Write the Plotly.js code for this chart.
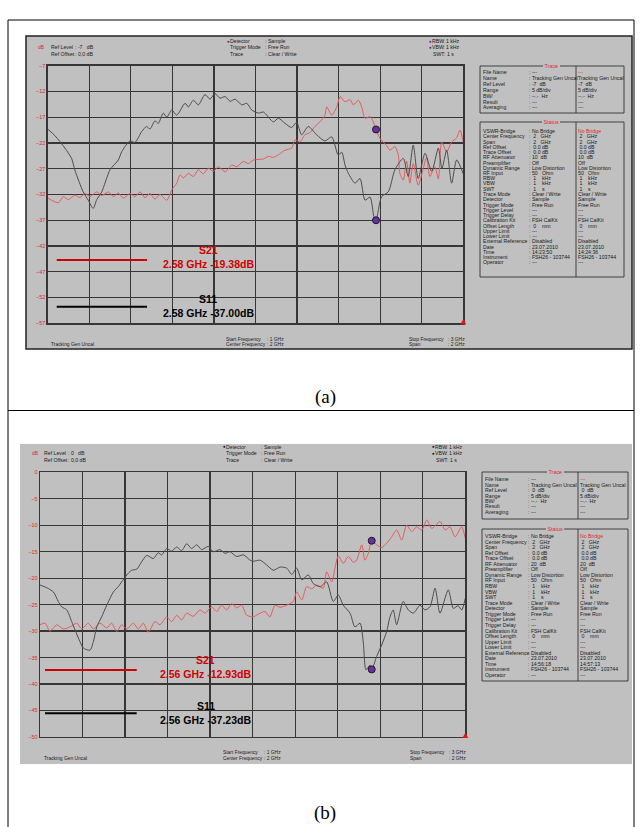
<!DOCTYPE html>
<html>
<head>
<meta charset="utf-8">
<script src="https://cdn.plot.ly/plotly-3.0.1.min.js"></script>
<style>
  html, body { margin: 0; padding: 0; background: #ffffff; }
  #chart { width: 640px; height: 827px; }
</style>
</head>
<body>
<div id="chart"></div>
<script>
// ---------- measured traces (frequency in GHz, level in dB) ----------
// (a) Ref level -7 dB
const freqA_S11 = [1.000,1.035,1.083,1.115,1.131,1.171,1.195,1.219,1.236,1.260,1.300,1.340,1.356,1.396,1.420,1.452,1.476,1.492,1.516,1.532,1.556,1.573,1.597,1.621,1.661,1.677,1.701,1.725,1.757,1.781,1.805,1.829,1.854,1.878,1.902,1.934,1.958,1.982,2.014,2.038,2.086,2.110,2.142,2.174,2.198,2.222,2.254,2.294,2.334,2.367,2.398,2.415,2.431,2.447,2.479,2.503,2.527,2.551,2.570,2.580,2.607,2.639,2.671,2.711,2.735,2.759,2.783,2.816,2.848,2.880,2.897,2.920,2.944,2.968,3.000];
const levelA_S11 = [-19.3,-20.6,-23.0,-25.0,-27.3,-31.5,-33.1,-34.7,-33.0,-31.5,-27.2,-25.3,-23.7,-21.6,-21.9,-19.8,-18.8,-19.3,-17.7,-18.2,-16.2,-17.0,-15.6,-16.6,-14.3,-15.0,-13.7,-14.6,-12.6,-13.5,-12.4,-13.3,-13.0,-13.9,-13.5,-14.6,-14.3,-15.6,-16.2,-16.0,-17.9,-17.2,-18.2,-19.0,-18.0,-20.4,-18.8,-20.4,-21.6,-20.8,-24.3,-23.8,-26.3,-27.9,-29.8,-28.9,-33.1,-32.5,-36.3,-37.0,-32.4,-31.5,-27.2,-25.0,-28.5,-22.4,-28.9,-24.0,-27.5,-23.0,-27.0,-23.4,-29.8,-25.3,-28.0];
const freqA_S21 = [1.000,1.051,1.075,1.099,1.131,1.155,1.179,1.203,1.236,1.260,1.292,1.316,1.340,1.364,1.396,1.420,1.444,1.468,1.492,1.516,1.540,1.573,1.597,1.621,1.637,1.653,1.677,1.701,1.725,1.749,1.773,1.797,1.821,1.854,1.886,1.910,1.942,1.966,1.990,2.038,2.062,2.086,2.110,2.142,2.174,2.190,2.214,2.238,2.262,2.286,2.310,2.334,2.343,2.367,2.391,2.407,2.431,2.455,2.471,2.495,2.511,2.527,2.551,2.566,2.580,2.599,2.631,2.647,2.671,2.687,2.695,2.711,2.727,2.743,2.759,2.783,2.807,2.823,2.839,2.863,2.880,2.896,2.920,2.944,2.968,2.984,3.000];
const levelA_S21 = [-32.7,-33.6,-32.4,-33.0,-32.1,-32.6,-31.8,-32.4,-31.5,-32.2,-31.5,-32.4,-31.7,-32.7,-31.8,-32.4,-31.5,-32.6,-31.8,-32.9,-32.0,-33.1,-31.1,-29.8,-28.2,-28.8,-27.9,-28.5,-27.2,-28.0,-26.9,-27.5,-26.6,-27.6,-26.3,-26.6,-25.6,-26.0,-25.3,-25.1,-24.6,-24.8,-24.3,-23.4,-23.0,-21.4,-21.8,-20.4,-20.0,-18.8,-17.9,-16.6,-15.0,-16.6,-15.0,-13.0,-14.0,-13.6,-14.6,-13.7,-15.0,-17.2,-16.9,-17.8,-19.38,-21.1,-22.5,-23.4,-22.7,-24.3,-27.9,-29.2,-25.5,-29.8,-26.0,-30.2,-27.0,-24.8,-28.5,-26.6,-29.0,-21.8,-23.7,-21.8,-21.0,-19.5,-21.8];
const markerA_freq = 2.58;
const markerA_S21 = -19.38;
const markerA_S11 = -37.00;

// (b) Ref level 0 dB
const freqB_S11 = [1.000,1.032,1.063,1.086,1.102,1.126,1.149,1.165,1.188,1.204,1.235,1.251,1.267,1.290,1.314,1.345,1.368,1.384,1.408,1.431,1.455,1.478,1.502,1.533,1.556,1.572,1.596,1.619,1.643,1.666,1.690,1.713,1.737,1.760,1.791,1.815,1.846,1.870,1.893,1.925,1.957,1.988,2.003,2.035,2.066,2.097,2.129,2.160,2.184,2.207,2.231,2.262,2.285,2.317,2.348,2.379,2.403,2.426,2.458,2.481,2.505,2.520,2.533,2.552,2.560,2.583,2.607,2.630,2.646,2.661,2.677,2.708,2.732,2.756,2.787,2.810,2.834,2.858,2.881,2.920,2.944,2.966,2.983,3.000];
const levelB_S11 = [-21.3,-21.8,-22.6,-24.4,-25.4,-26.0,-28.2,-29.8,-32.0,-33.2,-33.6,-32.0,-29.2,-27.3,-25.1,-22.6,-21.6,-20.7,-19.4,-18.5,-18.3,-16.9,-15.7,-16.3,-15.2,-15.6,-14.4,-14.9,-14.1,-14.8,-13.5,-14.4,-13.7,-14.6,-14.0,-15.0,-14.6,-15.3,-15.0,-15.9,-15.6,-16.6,-16.8,-16.6,-17.5,-18.5,-17.9,-18.1,-19.3,-18.1,-20.3,-19.4,-21.0,-21.6,-20.7,-24.4,-23.2,-25.1,-26.6,-29.2,-28.5,-32.0,-37.3,-36.4,-37.23,-34.8,-32.6,-30.1,-27.3,-26.0,-28.8,-24.4,-26.0,-26.6,-25.1,-26.0,-25.4,-21.9,-26.6,-22.2,-25.7,-25.2,-26.0,-23.8];
const freqB_S21 = [1.000,1.024,1.047,1.079,1.110,1.141,1.173,1.196,1.227,1.251,1.282,1.314,1.337,1.361,1.384,1.408,1.439,1.462,1.486,1.509,1.541,1.564,1.596,1.619,1.643,1.666,1.690,1.721,1.752,1.776,1.807,1.831,1.854,1.878,1.901,1.925,1.948,1.972,2.003,2.026,2.058,2.081,2.105,2.129,2.160,2.191,2.207,2.231,2.254,2.278,2.301,2.332,2.348,2.372,2.387,2.403,2.426,2.450,2.473,2.489,2.513,2.528,2.544,2.560,2.583,2.607,2.630,2.654,2.677,2.701,2.724,2.748,2.771,2.795,2.819,2.842,2.881,2.905,2.928,2.952,2.983,3.000];
const levelB_S21 = [-28.8,-28.5,-30.0,-28.8,-29.6,-29.2,-28.5,-29.6,-28.5,-29.6,-28.5,-29.4,-28.5,-30.1,-28.8,-29.6,-28.5,-29.6,-28.5,-30.2,-28.2,-28.8,-27.3,-28.2,-27.0,-27.9,-26.6,-27.2,-26.0,-26.6,-25.4,-26.3,-25.1,-26.0,-24.8,-25.6,-25.1,-27.0,-27.3,-26.8,-26.3,-27.3,-25.1,-25.5,-25.1,-24.4,-22.6,-24.1,-21.6,-22.0,-21.3,-21.9,-18.8,-20.7,-18.1,-15.8,-17.2,-15.9,-17.0,-16.6,-13.7,-16.6,-15.3,-12.93,-13.7,-14.2,-13.4,-12.2,-10.9,-12.8,-10.0,-11.2,-10.3,-10.9,-9.0,-10.6,-9.3,-10.9,-10.3,-12.2,-10.3,-12.5];
const markerB_freq = 2.56;
const markerB_S21 = -12.93;
const markerB_S11 = -37.23;

// ---------- instrument text ----------
const refLevelA = -7, refLevelB = 0;
const markerTextA_S21 = '2.58 GHz -19.38dB';
const markerTextA_S11 = '2.58 GHz -37.00dB';
const markerTextB_S21 = '2.56 GHz -12.93dB';
const markerTextB_S11 = '2.56 GHz -37.23dB';

const traceLabels = ['File Name','Name','Ref Level','Range','BW/','Result','Averaging'];
const traceValuesA = [['---','---'],['Tracking Gen Uncal','Tracking Gen Uncal'],['-7  dB','-7  dB'],['5 dB/div','5 dB/div'],['--.-  Hz','--.-  Hz'],['---','---'],['---','---']];
const traceValuesB = [['---','---'],['Tracking Gen Uncal','Tracking Gen Uncal'],[' 0  dB',' 0  dB'],['5 dB/div','5 dB/div'],['--.-  Hz','--.-  Hz'],['---','---'],['---','---']];

const statusLabels = ['VSWR-Bridge','Center Frequency','Span','Ref Offset','Trace Offset','RF Attenuator','Preamplifier','Dynamic Range','RF Input','RBW','VBW','SWT','Trace Mode','Detector','Trigger Mode','Trigger Level','Trigger Delay','Calibration Kit','Offset Length','Upper Limit','Lower Limit','External Reference','Date','Time','Instrument','Operator'];
const statusValuesA = [['No Bridge','No Bridge'],[' 2   GHz',' 2   GHz'],[' 2   GHz',' 2   GHz'],[' 0.0 dB',' 0.0 dB'],[' 0.0 dB',' 0.0 dB'],['10  dB','10  dB'],['Off','Off'],['Low Distortion','Low Distortion'],['50   Ohm','50   Ohm'],[' 1    kHz',' 1    kHz'],[' 1    kHz',' 1    kHz'],[' 1    s',' 1    s'],['Clear / Write','Clear / Write'],['Sample','Sample'],['Free Run','Free Run'],['---','---'],['---','---'],['FSH CalKit','FSH CalKit'],[' 0    mm',' 0    mm'],['---','---'],['---','---'],['Disabled','Disabled'],['23.07.2010','23.07.2010'],['14:23:50','14:24:36'],['FSH26 - 103744','FSH26 - 103744'],['---','---']];
const statusValuesB = [['No Bridge','No Bridge'],[' 2   GHz',' 2   GHz'],[' 2   GHz',' 2   GHz'],[' 0.0 dB',' 0.0 dB'],[' 0.0 dB',' 0.0 dB'],['20  dB','20  dB'],['Off','Off'],['Low Distortion','Low Distortion'],['50   Ohm','50   Ohm'],[' 1    kHz',' 1    kHz'],[' 1    kHz',' 1    kHz'],[' 1    s',' 1    s'],['Clear / Write','Clear / Write'],['Sample','Sample'],['Free Run','Free Run'],['---','---'],['---','---'],['FSH CalKit','FSH CalKit'],[' 0    mm',' 0    mm'],['---','---'],['---','---'],['Disabled','Disabled'],['23.07.2010','23.07.2010'],['14:56:18','14:57:13'],['FSH26 - 103744','FSH26 - 103744'],['---','---']];

// ---------- drawing helpers (pixel -> paper) ----------
const W = 640, H = 827;
const FONT = 'Arial, "Liberation Sans", sans-serif';
const SERIF = '"Times New Roman", "Liberation Serif", serif';
const GRAY = '#c0c0c0';
const GRID = '#363636';
const RED_TXT = '#e02828';
const PX = p => p / W;
const PY = p => 1 - p / H;
const annotations = [];
const shapes = [];
const nb = s => s.replace(/ /g, '&nbsp;');

function text(px, py, s, o = {}) {
  annotations.push({
    xref: 'paper', yref: 'paper', x: PX(px), y: PY(py), text: nb(s),
    showarrow: false, xanchor: o.xa || 'left', yanchor: 'middle',
    borderpad: 0, borderwidth: 0,
    bgcolor: o.bg || 'rgba(0,0,0,0)',
    font: { family: o.ff || FONT, size: o.s || 5.2, color: o.c || '#1a1a1a', weight: o.w || 'normal' }
  });
}
function rect(x0, y0, x1, y1, o = {}) {
  shapes.push({
    type: 'rect', xref: 'paper', yref: 'paper', layer: o.layer || 'above',
    x0: PX(x0), x1: PX(x1), y0: PY(y1), y1: PY(y0),
    line: { color: o.lc || 'rgba(0,0,0,0)', width: o.lw === undefined ? 0 : o.lw },
    fillcolor: o.fc || 'rgba(0,0,0,0)'
  });
}
function seg(x0, y0, x1, y1, c, w) {
  shapes.push({ type: 'line', xref: 'paper', yref: 'paper', layer: 'above',
    x0: PX(x0), x1: PX(x1), y0: PY(y0), y1: PY(y1), line: { color: c, width: w } });
}
function tri(cx, by, c) {
  shapes.push({ type: 'path', xref: 'paper', yref: 'paper', layer: 'above',
    path: `M ${PX(cx)} ${PY(by - 4)} L ${PX(cx - 3)} ${PY(by + 1)} L ${PX(cx + 3)} ${PY(by + 1)} Z`,
    fillcolor: c, line: { color: c, width: 0 } });
}

// one analyzer screenshot: header, footer, marker legend, side table
function screen(g) {
  rect(g.box[0], g.box[1], g.box[2], g.box[3], { fc: GRAY, lc: g.boxLine || 'rgba(0,0,0,0)', lw: g.boxLine ? 1.5 : 0, layer: 'below' });

  // header
  text(g.dbX, g.hdrY[1], 'dB', { c: RED_TXT, s: 5 });
  text(g.refX, g.hdrY[1], 'Ref Level');
  text(g.refX + 24, g.hdrY[1], ': ' + g.refLevel + '   dB');
  text(g.refX, g.hdrY[2], 'Ref Offset');
  text(g.refX + 24, g.hdrY[2], ': 0,0 dB');
  text(g.midX - 3, g.hdrY[0], '\u25CF', { c: g.bullet, s: 4.5 });
  text(g.midX, g.hdrY[0], 'Detector');
  text(g.midX, g.hdrY[1], 'Trigger Mode');
  text(g.midX, g.hdrY[2], 'Trace');
  text(g.midX + 35, g.hdrY[0], ': Sample');
  text(g.midX + 35, g.hdrY[1], ': Free Run');
  text(g.midX + 35, g.hdrY[2], ': Clear / Write');
  text(g.rbwX - 3, g.hdrY[0], '\u25CF', { c: g.bullet, s: 4.5 });
  text(g.rbwX - 3, g.hdrY[1], '\u25CF', { c: g.bullet, s: 4.5 });
  text(g.rbwX, g.hdrY[0], 'RBW');
  text(g.rbwX, g.hdrY[1], 'VBW');
  text(g.rbwX + 1, g.hdrY[2], 'SWT');
  text(g.rbwX + 11, g.hdrY[0], ': 1 kHz');
  text(g.rbwX + 11, g.hdrY[1], ': 1 kHz');
  text(g.rbwX + 12, g.hdrY[2], ': 1 s');

  // footer
  text(g.tgX, g.ftY[1], 'Tracking Gen Uncal', { s: 4.9 });
  text(g.startX, g.ftY[0], 'Start Frequency', { s: 4.9 });
  text(g.startX + 41, g.ftY[0], ': 1 GHz', { s: 4.9 });
  text(g.startX, g.ftY[1], 'Center Frequency', { s: 4.9 });
  text(g.startX + 41, g.ftY[1], ': 2 GHz', { s: 4.9 });
  text(g.stopX, g.ftY[0], 'Stop Frequency', { s: 4.9 });
  text(g.stopX + 39, g.ftY[0], ': 3 GHz', { s: 4.9 });
  text(g.stopX, g.ftY[1], 'Span', { s: 4.9 });
  text(g.stopX + 39, g.ftY[1], ': 2 GHz', { s: 4.9 });
  tri(g.triX, g.triY, '#ee1111');

  // marker legend
  seg(g.legX[0], g.legS21Y, g.legX[1], g.legS21Y, '#cc0000', 2);
  seg(g.legX[0], g.legS11Y, g.legX[1], g.legS11Y, '#000000', 2);
  text(g.legTxtX, g.legS21Y - 10, 'S21', { xa: 'center', s: 10.5, c: '#d00000', w: 'bold' });
  text(g.legTxtX, g.legS21Y + 4, g.txtS21, { xa: 'center', s: 10.5, c: '#d00000', w: 'bold' });
  text(g.legTxtX, g.legS11Y - 7.5, 'S11', { xa: 'center', s: 10.5, c: '#000000', w: 'bold' });
  text(g.legTxtX, g.legS11Y + 6.5, g.txtS11, { xa: 'center', s: 10.5, c: '#000000', w: 'bold' });

  // side table
  const t = g.table;
  rect(t.x0, t.traceY[0], t.x1, t.traceY[1], { lc: '#222', lw: 0.8 });
  rect(t.x0, t.statY[0], t.x1, t.statY[1], { lc: '#222', lw: 0.8 });
  seg(t.div, t.traceY[0], t.div, t.traceY[1], '#222', 0.8);
  seg(t.div, t.statY[0], t.div, t.statY[1], '#222', 0.8);
  text(t.hdrX, t.traceY[0], ' Trace ', { xa: 'center', c: RED_TXT, bg: GRAY, s: 5.4 });
  text(t.hdrX, t.statY[0], ' Status ', { xa: 'center', c: RED_TXT, bg: GRAY, s: 5.4 });
  traceLabels.forEach((lab, i) => {
    const y = t.traceRow0 + i * t.traceStep;
    text(t.x0 + 2.5, y, lab);
    text(t.valX, y, ': ' + g.traceVals[i][0]);
    text(t.div + 2, y, g.traceVals[i][1], { c: i === 0 ? RED_TXT : '#1a1a1a' });
  });
  statusLabels.forEach((lab, i) => {
    const y = t.statRow0 + i * t.statStep;
    text(t.x0 + 2.5, y, lab);
    text(t.valX, y, ': ' + g.statVals[i][0]);
    text(t.div + 2, y, g.statVals[i][1], { c: i === 0 ? RED_TXT : '#1a1a1a' });
  });
}

// ---------- figure frame ----------
seg(8, 20, 8, 827, '#000', 1);
seg(634, 20, 634, 827, '#000', 1);
seg(8, 20, 634, 20, '#000', 1);
seg(8, 410.5, 634, 410.5, '#000', 1);
text(325, 397, '(a)', { xa: 'center', s: 19, ff: SERIF, c: '#000' });
text(325, 813, '(b)', { xa: 'center', s: 19, ff: SERIF, c: '#000' });

screen({
  box: [26, 36, 632, 349], boxLine: '#222',
  refLevel: refLevelA, bullet: '#5a1e9a',
  dbX: 38, refX: 51, hdrY: [41, 47.3, 54], midX: 230, rbwX: 432,
  tgX: 51, startX: 226, stopX: 409, ftY: [339, 344.5], triX: 463.3, triY: 323.3,
  legX: [56.7, 147], legS21Y: 260, legS11Y: 306.7, legTxtX: 208,
  txtS21: markerTextA_S21, txtS11: markerTextA_S11,
  traceVals: traceValuesA, statVals: statusValuesA,
  table: { x0: 480, x1: 624, div: 576, hdrX: 551, valX: 529,
           traceY: [66, 113], statY: [122, 277],
           traceRow0: 72, traceStep: 5.9, statRow0: 131, statStep: 5.25 }
});
screen({
  box: [20, 444, 632, 764], boxLine: null,
  refLevel: refLevelB, bullet: '#111111',
  dbX: 32, refX: 44, hdrY: [447, 453.5, 460], midX: 226, rbwX: 434.5,
  tgX: 44, startX: 223, stopX: 410, ftY: [752.3, 758.3], triX: 465.3, triY: 737,
  legX: [45, 136.7], legS21Y: 670, legS11Y: 713.3, legTxtX: 205.5,
  txtS21: markerTextB_S21, txtS11: markerTextB_S11,
  traceVals: traceValuesB, statVals: statusValuesB,
  table: { x0: 482, x1: 628, div: 578, hdrX: 555, valX: 528,
           traceY: [472, 519], statY: [529, 681],
           traceRow0: 479.3, traceStep: 5.4, statRow0: 536, statStep: 5.56 }
});

// ---------- traces ----------
const S11_COLOR = '#4d4d4d', S21_COLOR = '#e85a5a';
const lineStyle = c => ({ color: c, width: 1, shape: 'spline', smoothing: 0.7 });
const markerStyle = { size: 7, color: '#6a2fa8', line: { color: '#1a1a1a', width: 1 } };

const data = [
  { x: freqA_S21, y: levelA_S21, xaxis: 'x', yaxis: 'y', mode: 'lines', line: lineStyle(S21_COLOR), hoverinfo: 'skip' },
  { x: freqA_S11, y: levelA_S11, xaxis: 'x', yaxis: 'y', mode: 'lines', line: lineStyle(S11_COLOR), hoverinfo: 'skip' },
  { x: [markerA_freq, markerA_freq], y: [markerA_S21, markerA_S11], xaxis: 'x', yaxis: 'y', mode: 'markers', marker: markerStyle, hoverinfo: 'skip' },
  { x: freqB_S21, y: levelB_S21, xaxis: 'x2', yaxis: 'y2', mode: 'lines', line: lineStyle(S21_COLOR), hoverinfo: 'skip' },
  { x: freqB_S11, y: levelB_S11, xaxis: 'x2', yaxis: 'y2', mode: 'lines', line: lineStyle(S11_COLOR), hoverinfo: 'skip' },
  { x: [markerB_freq, markerB_freq], y: [markerB_S21, markerB_S11], xaxis: 'x2', yaxis: 'y2', mode: 'markers', marker: markerStyle, hoverinfo: 'skip' }
];

const xAxis = (dom, anchor) => ({
  domain: dom, anchor, range: [1, 3], tick0: 1, dtick: 0.2,
  showgrid: true, gridcolor: GRID, gridwidth: 1.3, zeroline: false,
  showline: true, mirror: true, linecolor: GRID, linewidth: 1.3,
  showticklabels: false, ticks: '', automargin: false, fixedrange: true
});
const yAxis = (dom, anchor, top) => ({
  domain: dom, anchor, range: [top - 50, top], tick0: top - 50, dtick: 5,
  showgrid: true, gridcolor: GRID, gridwidth: 1.3, zeroline: false,
  showline: true, mirror: true, linecolor: GRID, linewidth: 1.3,
  ticks: '', ticklen: 0, tickfont: { family: FONT, size: 5.5, color: RED_TXT },
  automargin: false, fixedrange: true
});

const layout = {
  width: W, height: H,
  margin: { l: 0, r: 0, t: 0, b: 0, pad: 0 },
  paper_bgcolor: '#ffffff', plot_bgcolor: GRAY,
  showlegend: false,
  xaxis: xAxis([PX(47.7), PX(463.3)], 'y'),
  yaxis: yAxis([PY(323.3), PY(65.7)], 'x', refLevelA),
  xaxis2: xAxis([PX(40), PX(465.3)], 'y2'),
  yaxis2: yAxis([PY(737), PY(472.3)], 'x2', refLevelB),
  annotations, shapes
};

Plotly.newPlot('chart', data, layout, { displayModeBar: false, staticPlot: true });
</script>
</body>
</html>
